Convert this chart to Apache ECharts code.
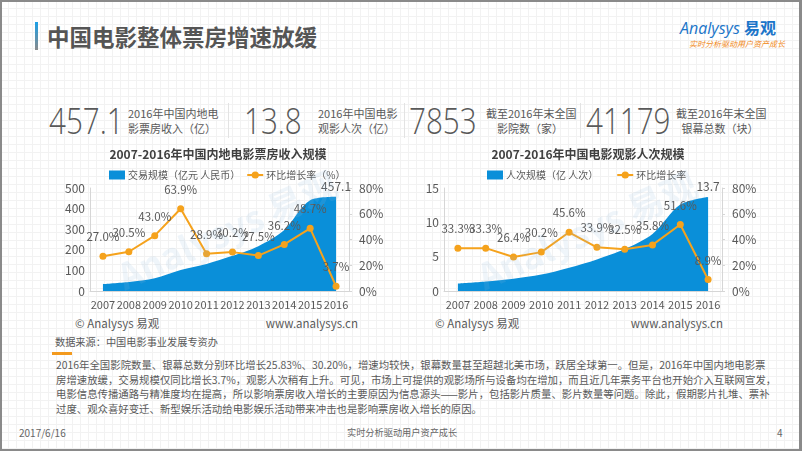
<!DOCTYPE html>
<html><head><meta charset="utf-8">
<script src="https://cdn.jsdelivr.net/npm/echarts@6/dist/echarts.min.js"></script>
<style>
html,body{margin:0;padding:0;}
body{width:802px;height:451px;overflow:hidden;position:relative;font-family:"Noto Sans CJK SC","Noto Sans",sans-serif;color:#595959;
background-color:#fff;
background-image:linear-gradient(#f2f2f2 1px,transparent 1px),linear-gradient(90deg,#f2f2f2 1px,transparent 1px);
background-size:8px 8px;}
#frame{position:absolute;left:0;top:0;width:802px;height:451px;box-sizing:border-box;border:2px solid #8a8a8a;border-right-width:3px;pointer-events:none;z-index:5;}
.t{position:absolute;white-space:nowrap;line-height:1;}
#chart{position:absolute;left:0;top:0;width:802px;height:451px;z-index:2;}
.sep{position:absolute;top:103px;width:1px;height:35px;background:#e3e3e3;}
.big{position:absolute;font-size:37px;font-weight:300;color:#595959;line-height:1;top:101px;font-family:"Open Sans","Noto Sans",sans-serif;transform:scaleX(0.8);transform-origin:left center;white-space:nowrap;}
.lab{position:absolute;font-size:11px;line-height:15px;text-align:center;top:106px;color:#595959;white-space:nowrap;}
#para{position:absolute;left:56px;top:358px;font-size:10.4px;line-height:14.6px;white-space:nowrap;color:#595959;}
</style></head>
<body>
<div id="frame"></div>
<div style="position:absolute;left:35px;top:22px;width:3px;height:28px;background:linear-gradient(#1aa0e8,#8a8a8a);"></div>
<div class="t" style="left:47px;top:25px;font-size:22.5px;font-weight:bold;color:#555;">中国电影整体票房增速放缓</div>
<div class="t" style="left:680px;top:19px;font-size:16px;font-style:italic;color:#1b75c9;font-family:'Open Sans',sans-serif;">Analysys <span style="font-style:normal;font-weight:bold;font-family:'Noto Sans CJK SC';">易观</span></div>
<div class="t" style="left:689px;top:40px;font-size:8px;font-style:italic;color:#f08a1c;">实时分析驱动用户资产成长</div>

<div class="big" style="left:49px;">457.1</div>
<div class="lab" style="left:128px;text-align:left;">2016年中国内地电<br>影票房收入（亿）</div>
<div class="sep" style="left:228px;"></div>
<div class="big" style="left:244px;">13.8</div>
<div class="lab" style="left:318px;width:76px;">2016年中国电影<br>观影人次（亿）</div>
<div class="sep" style="left:404px;"></div>
<div class="big" style="left:409px;">7853</div>
<div class="lab" style="left:486px;width:88px;">截至2016年末全国<br>影院数（家）</div>
<div class="sep" style="left:580px;"></div>
<div class="big" style="left:586px;">41179</div>
<div class="lab" style="left:676px;width:88px;">截至2016年末全国<br>银幕总数（块）</div>

<div id="chart"></div>

<div class="t" style="left:75px;top:318px;font-size:11.5px;">© Analysys 易观</div>
<div class="t" style="left:258px;top:318px;font-size:11.5px;width:100px;text-align:right;">www.analysys.cn</div>
<div class="t" style="left:435px;top:318px;font-size:11.5px;">© Analysys 易观</div>
<div class="t" style="left:623px;top:318px;font-size:11.5px;width:100px;text-align:right;">www.analysys.cn</div>

<div class="t" style="left:55px;top:337px;font-size:10.2px;">数据来源：中国电影事业发展专资办</div>
<div style="position:absolute;left:52px;top:352px;width:20px;height:3px;background:#f39a1e;"></div>
<div id="para">2016年全国影院数量、银幕总数分别环比增长25.83%、30.20%，增速均较快，银幕数量甚至超越北美市场，跃居全球第一。但是，2016年中国内地电影票<br>房增速放缓，交易规模仅同比增长3.7%，观影人次稍有上升。可见，市场上可提供的观影场所与设备均在增加，而且近几年票务平台也开始介入互联网宣发，<br>电影信息传播通路与精准度均在提高，所以影响票房收入增长的主要原因为信息源头——影片，包括影片质量、影片数量等问题。除此，假期影片扎堆、票补<br>过度、观众喜好变迁、新型娱乐活动给电影娱乐活动带来冲击也是影响票房收入增长的原因。</div>

<div class="t" style="left:19px;top:428px;font-size:10px;color:#666;">2017/6/16</div>
<div class="t" style="left:347px;top:428px;font-size:9.2px;color:#666;">实时分析驱动用户资产成长</div>
<div class="t" style="left:777px;top:428px;font-size:10px;color:#666;">4</div>

<script>
const years = ['2007','2008','2009','2010','2011','2012','2013','2014','2015','2016'];
const boxOffice = [33.3, 43.4, 62.1, 101.7, 131.2, 170.7, 217.7, 296.4, 440.7, 457.1];
const boxGrowth = [27.0, 30.5, 43.0, 63.9, 28.9, 30.2, 27.5, 36.2, 48.7, 3.7];
const admissions = [1.1, 1.4, 1.8, 2.4, 3.4, 4.6, 6.1, 8.3, 12.6, 13.7];
const admGrowth = [33.3, 33.3, 26.4, 30.2, 45.6, 33.9, 32.5, 35.8, 51.6, 8.9];
const leftTicks = [0, 500, 100];
const admTicks = [0, 15, 5];
const pctTicks = [0, 80, 20];

const BLUE = '#0a8fd9', ORANGE = '#f5a21c', TXT = '#595959', AX = '#d6d6d6';
const FONT = '"Noto Sans CJK SC","Noto Sans",sans-serif';

function xAxis(gi){
  return {type:'category', gridIndex:gi, data:years, boundaryGap:true,
    axisLine:{lineStyle:{color:AX}}, axisTick:{show:false},
    axisLabel:{color:TXT, fontSize:11, fontFamily:FONT, margin:8, interval:0}};
}
function yAxis(gi, t, pos, pct){
  return {type:'value', gridIndex:gi, position:pos, min:t[0], max:t[1], interval:t[2],
    splitLine:{show:false},
    axisLine:{show:true, lineStyle:{color:AX}},
    axisTick:{show:pos==='right', length:3, lineStyle:{color:AX}},
    axisLabel:{color:TXT, fontSize:12, fontFamily:FONT, margin:pos==='right'?10:5,
      formatter: pct ? '{value}%' : '{value}'}};
}
const lastLabel = (digits) => p => p.dataIndex === years.length-1 ? Number(p.value).toFixed(digits) : '';

const chart = echarts.init(document.getElementById('chart'), null, {renderer:'canvas'});
chart.setOption({
  animation:false,
  textStyle:{fontFamily:FONT},
  title:[
    {text:'2007-2016年中国内地电影票房收入规模', left:213, top:143, textAlign:'center',
      textStyle:{fontSize:12, fontWeight:'bold', color:'#404040', fontFamily:FONT}},
    {text:'2007-2016年中国电影观影人次规模', left:583, top:143, textAlign:'center',
      textStyle:{fontSize:12, fontWeight:'bold', color:'#404040', fontFamily:FONT}}
  ],
  legend:[
    {left:104, top:165, itemGap:6, itemWidth:16, itemHeight:9,
      data:[{name:'交易规模（亿元 人民币）', icon:'rect'}, {name:'环比增长率（%）'}],
      textStyle:{fontSize:10, color:TXT, fontFamily:FONT, padding:[0,0,0,-2]}},
    {left:482, top:165, itemGap:18, itemWidth:16, itemHeight:9,
      data:[{name:'人次规模（亿 人次）', icon:'rect'}, {name:'环比增长率'}],
      textStyle:{fontSize:10, color:TXT, fontFamily:FONT, padding:[0,0,0,-2]}}
  ],
  grid:[
    {left:90, top:188, width:259, height:103},
    {left:444, top:188, width:278, height:103}
  ],
  xAxis:[xAxis(0), xAxis(1)],
  yAxis:[yAxis(0, leftTicks, 'left', false), yAxis(0, pctTicks, 'right', true),
         yAxis(1, admTicks, 'left', false), yAxis(1, pctTicks, 'right', true)],
  series:[
    {name:'交易规模（亿元 人民币）', type:'line', xAxisIndex:0, yAxisIndex:0, data:boxOffice,
      smooth:0.3, symbol:'circle', symbolSize:0.1, showSymbol:true,
      lineStyle:{width:0, color:BLUE}, itemStyle:{color:BLUE},
      areaStyle:{color:BLUE, opacity:1},
      label:{show:true, position:'top', distance:4, color:TXT, fontSize:12, formatter:lastLabel(1)}},
    {name:'环比增长率（%）', type:'line', xAxisIndex:0, yAxisIndex:1, data:boxGrowth,
      symbol:'circle', symbolSize:7, lineStyle:{width:2, color:ORANGE}, itemStyle:{color:ORANGE},
      label:{show:true, position:'top', distance:10, color:TXT, fontSize:11.5, formatter:p=>p.value.toFixed(1)+'%'}},
    {name:'人次规模（亿 人次）', type:'line', xAxisIndex:1, yAxisIndex:2, data:admissions,
      smooth:0.3, symbol:'circle', symbolSize:0.1, showSymbol:true,
      lineStyle:{width:0, color:BLUE}, itemStyle:{color:BLUE},
      areaStyle:{color:BLUE, opacity:1},
      label:{show:true, position:'top', distance:4, color:TXT, fontSize:12, formatter:lastLabel(1)}},
    {name:'环比增长率', type:'line', xAxisIndex:1, yAxisIndex:3, data:admGrowth,
      symbol:'circle', symbolSize:7, lineStyle:{width:2, color:ORANGE}, itemStyle:{color:ORANGE},
      label:{show:true, position:'top', distance:10, color:TXT, fontSize:11.5, formatter:p=>p.value.toFixed(1)+'%'}}
  ],
  graphic:[
    {type:'text', x:112, y:262, rotation:0.42, z:100, silent:true,
      style:{text:'Analysys 易观', fontSize:36, fontWeight:'bold', fill:'rgba(150,190,220,0.15)', fontFamily:FONT}},
    {type:'text', x:472, y:262, rotation:0.42, z:100, silent:true,
      style:{text:'Analysys 易观', fontSize:36, fontWeight:'bold', fill:'rgba(150,190,220,0.15)', fontFamily:FONT}}
  ]
});
</script>
</body></html>
